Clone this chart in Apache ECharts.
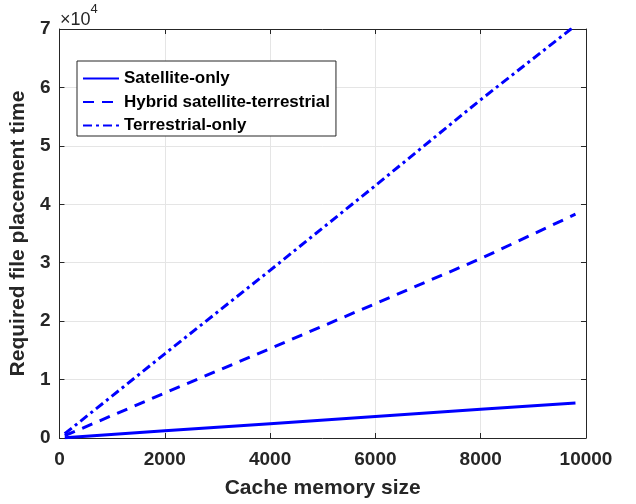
<!DOCTYPE html>
<html>
<head>
<meta charset="utf-8">
<script src="https://cdn.jsdelivr.net/npm/echarts@6/dist/echarts.min.js"></script>
<style>html,body{margin:0;padding:0;background:#fff}#c{width:636px;height:504px}</style>
</head>
<body>
<div id="c"></div>
<script>
const cacheSize = [100, 2000, 4000, 6000, 8000, 9800];
const satelliteOnly = [60, 1230, 2450, 3680, 4900, 6000];
const hybrid = [390, 7700, 15300, 23000, 30700, 38300];
const terrestrialOnly = [720, 14400, 28700, 43200, 57900, 70600];
const xTicks = [0, 2000, 4000, 6000, 8000, 10000];
const yTicks = [0, 1, 2, 3, 4, 5, 6, 7];

const FONT = "'Liberation Sans', Arial, Helvetica, sans-serif";
const AX = '#262626';
const pairs = (xs, ys) => xs.map((x, i) => [x, ys[i]]);

const chart = echarts.init(document.getElementById('c'), null, {renderer: 'canvas'});
const axisBase = {
  axisLine: {show: true, onZero: false, lineStyle: {color: AX, width: 1}},
  axisTick: {show: true, inside: true, length: 5, lineStyle: {color: AX}},
  splitLine: {show: false}
};
chart.setOption({
  animation: false,
  backgroundColor: '#fff',
  grid: {left: 59, right: 50, top: 29, bottom: 64, containLabel: false},
  xAxis: [
    Object.assign({}, axisBase, {
      type: 'value', min: 0, max: 10000, interval: 2000, position: 'bottom',
      name: 'Cache memory size', nameLocation: 'middle', nameGap: 40,
      nameTextStyle: {fontFamily: FONT, fontWeight: 'bold', fontSize: 21, color: AX},
      axisLabel: {fontFamily: FONT, fontWeight: 'bold', fontSize: 19, color: AX, margin: 12,
        formatter: v => String(xTicks[Math.round(v / 2000)])},
      splitLine: {show: true, lineStyle: {color: '#e5e5e5', width: 1}}
    }),
    Object.assign({}, axisBase, {
      type: 'value', min: 0, max: 10000, interval: 2000, position: 'top',
      axisLabel: {show: false}
    })
  ],
  yAxis: [
    Object.assign({}, axisBase, {
      type: 'value', min: 0, max: 70000, interval: 10000, position: 'left',
      name: 'Required file placement time', nameLocation: 'middle', nameGap: 27,
      nameTextStyle: {fontFamily: FONT, fontWeight: 'bold', fontSize: 21, color: AX},
      axisLabel: {fontFamily: FONT, fontWeight: 'bold', fontSize: 19, color: AX, margin: 9,
        formatter: v => String(yTicks[Math.round(v / 10000)])},
      splitLine: {show: true, lineStyle: {color: '#e5e5e5', width: 1}}
    }),
    Object.assign({}, axisBase, {
      type: 'value', min: 0, max: 70000, interval: 10000, position: 'right',
      axisLabel: {show: false}
    })
  ],
  legend: {
    left: 77, top: 61, orient: 'vertical',
    itemWidth: 36, itemHeight: 14, itemGap: 6.5,
    padding: [9, 6, 2, 5],
    backgroundColor: '#fff', borderColor: AX, borderWidth: 1,
    itemStyle: {opacity: 0},
    textStyle: {fontFamily: FONT, fontWeight: 'bold', fontSize: 17, color: '#000', padding: [0, 0, 0, 0]},
    data: ['Satellite-only', 'Hybrid satellite-terrestrial', 'Terrestrial-only']
  },
  graphic: [{
    type: 'text', left: 60, top: 3,
    style: {
      text: '{a|×10}{b|4}', fill: AX,
      rich: {
        a: {fontFamily: FONT, fontSize: 18, fontWeight: 'normal', fill: AX, padding: [8, 0, 0, 0]},
        b: {fontFamily: FONT, fontSize: 13, fontWeight: 'normal', fill: AX, verticalAlign: 'top'}
      }
    }
  }],
  series: [
    {name: 'Satellite-only', type: 'line', data: pairs(cacheSize, satelliteOnly), showSymbol: false, symbol: 'none',
      lineStyle: {color: '#0000ff', width: 3, type: 'solid'}, itemStyle: {color: '#0000ff'}, z: 3},
    {name: 'Hybrid satellite-terrestrial', type: 'line', data: pairs(cacheSize, hybrid), showSymbol: false, symbol: 'none',
      lineStyle: {color: '#0000ff', width: 3, type: [11, 8]}, itemStyle: {color: '#0000ff'}, z: 3},
    {name: 'Terrestrial-only', type: 'line', data: pairs(cacheSize, terrestrialOnly), showSymbol: false, symbol: 'none',
      lineStyle: {color: '#0000ff', width: 3, type: [9, 4, 3, 4]}, itemStyle: {color: '#0000ff'}, z: 3}
  ]
});
</script>
</body>
</html>
